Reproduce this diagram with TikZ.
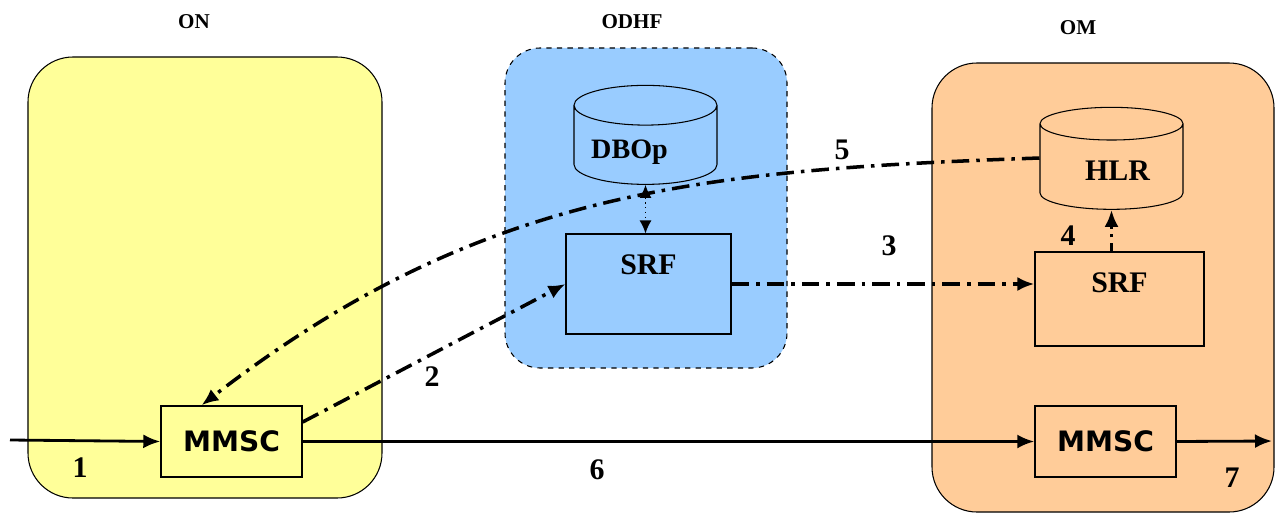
\documentclass[tikz,border=0pt]{standalone}
\usepackage{fontspec}
\usepackage{xcolor}
\usepackage{tikz}
\usetikzlibrary{arrows.meta,positioning,calc,shapes.geometric}
\setmainfont{Liberation Serif}
\newfontfamily\boxfont{DejaVu Sans}
\definecolor{OnYellow}{HTML}{FFFF99}
\definecolor{HubBlue}{HTML}{99CCFF}
\definecolor{OmOrange}{HTML}{FFCC99}

\begin{document}
\begin{tikzpicture}[x=0.2mm,y=-0.2mm,
    zone/.style={draw,line width=0.6pt,minimum width=#1},
    db/.style={cylinder,shape border rotate=90,aspect=0.45,draw,line width=0.6pt,minimum width=28.6mm,minimum height=19.8mm,font=\bfseries\fontsize{16}{16}\selectfont},
    srfbox/.style={draw,line width=0.6pt,minimum height=20mm},
    mmsc/.style={draw,line width=0.8pt,minimum width=28.2mm,minimum height=14.2mm,font=\boxfont\bfseries\fontsize{16}{16}\selectfont},
    tag/.style={font=\bfseries\fontsize{12}{12}\selectfont},
    num/.style={font=\bfseries\fontsize{17}{17}\selectfont},
    sol/.style={-{Latex[length=3.4mm,width=2.8mm]},line width=1.6pt},
    dd/.style={-{Latex[length=3.4mm,width=2.8mm]},line width=2pt,dash pattern=on 10pt off 4pt on 2pt off 4pt}]
    \useasboundingbox (0,0) rectangle (1276,523);
    % operator domains
    \node[zone=70.8mm,minimum height=88.2mm,fill=OnYellow,rounded corners=9mm] (on) at (205,277.5) {};
    \node[zone=56.4mm,minimum height=64mm,fill=HubBlue,rounded corners=7mm,dashed] (odhf) at (646,208) {};
    \node[zone=68.4mm,minimum height=89.8mm,fill=OmOrange,rounded corners=9mm] (om) at (1103,287.5) {};
    \node[tag] at (194,22) {ON};
    \node[tag] at (632,22) {ODHF};
    \node[tag] at (1078,28) {OM};
    % elements
    \node[db,label={[xshift=-3.2mm,yshift=-0.6mm,font=\bfseries\fontsize{16}{16}\selectfont]center:DBOp}] (dbop) at (645.5,149) {\phantom{DBOp}};
    \node[db,minimum height=20.4mm,label={[xshift=1.2mm,yshift=-0.2mm,num]center:HLR}] (hlr) at (1111.5,170) {\phantom{HLR}};
    \node[srfbox,minimum width=33mm,label={[anchor=north,yshift=-3mm,num]north:SRF}] (srfA) at (648.5,284) {};
    \node[srfbox,minimum width=33.8mm,minimum height=18.8mm,label={[anchor=north,yshift=-3mm,num]north:SRF}] (srfB) at (1119.5,299) {};
    \node[mmsc] (mmscA) at (231.5,441.5) {MMSC};
    \node[mmsc] (mmscB) at (1105.5,441.5) {MMSC};
    \coordinate (in) at (10,440);
    \coordinate (out) at (1272,441);
    % flows
    \draw[sol] (in) -- (mmscA.west);
    \draw[dd] ([yshift=3.9mm]mmscA.east) -- (srfA.west);
    \draw[dd] (srfA.east) -- (srfA.east -| srfB.west);
    \draw[dd,dash pattern=on 5pt off 3pt on 2pt off 3pt] (hlr.south |- srfB.north) -- (hlr.south);
    \draw[dd] ([yshift=2.4mm]hlr.west) .. controls (700,170) and (480,190) .. ([xshift=-6mm]mmscA.north);
    \draw[{Latex[length=2.6mm,width=2.4mm]}-{Latex[length=2.6mm,width=2.4mm]},line width=0.8pt,dotted] (dbop.south) -- (dbop.south |- srfA.north);
    \draw[sol] (mmscA.east) -- (mmscB.west);
    \draw[sol] (mmscB.east) -- (out);
    \node[num] at (80,468) {1};
    \node[num] at (432,377) {2};
    \node[num] at (889,246) {3};
    \node[num] at (1068,236) {4};
    \node[num] at (842,150) {5};
    \node[num] at (597,470) {6};
    \node[num] at (1232,478) {7};
  \end{tikzpicture}
\end{document}
